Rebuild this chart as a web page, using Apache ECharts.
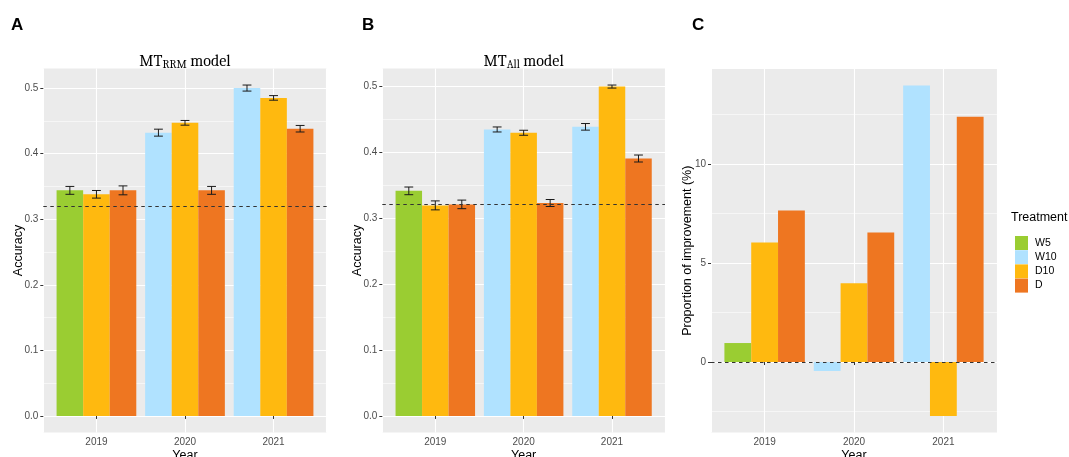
<!DOCTYPE html>
<html>
<head>
<meta charset="utf-8">
<script src="https://cdn.jsdelivr.net/npm/echarts@6/dist/echarts.min.js"></script>
<style>
  html, body { margin: 0; padding: 0; background: #ffffff; }
  #chart { width: 1069px; height: 457px; }
</style>
</head>
<body>
<div id="chart"></div>
<script>
// ---- data -------------------------------------------------------------
const years = ['2019', '2020', '2021'];
const treatments = ['W5', 'W10', 'D10', 'D'];
const accuracyTicks = [0, 0.1, 0.2, 0.3, 0.4, 0.5];
const improvementTicks = [0, 5, 10];
const baselineAccuracy = 0.322;

// MT_RRM model: mean accuracy per year and error half-widths
const rrmW5 = [0.344, null, null];
const rrmW10 = [null, 0.432, 0.500];
const rrmD10 = [0.338, 0.447, 0.485];
const rrmD = [0.344, 0.344, 0.438];
const rrmErrW5 = [0.006, null, null];
const rrmErrW10 = [null, 0.0053, 0.0046];
const rrmErrD10 = [0.0058, 0.0036, 0.0035];
const rrmErrD = [0.0068, 0.0060, 0.0050];

// MT_All model
const allW5 = [0.341, null, null];
const allW10 = [null, 0.434, 0.438];
const allD10 = [0.319, 0.429, 0.499];
const allD = [0.3205, 0.3226, 0.390];
const allErrW5 = [0.0058, null, null];
const allErrW10 = [null, 0.0038, 0.0050];
const allErrD10 = [0.0068, 0.0038, 0.0023];
const allErrD = [0.0065, 0.0053, 0.0053];

// proportion of improvement (%)
const impW5 = [0.96, null, null];
const impW10 = [null, -0.45, 13.95];
const impD10 = [6.03, 3.97, -2.72];
const impD = [7.65, 6.54, 12.38];

// ---- styling ----------------------------------------------------------
const fillColors = { W5: '#9ACD32', W10: '#B0E2FF', D10: '#FFB90F', D: '#EE7621' };
const slotOf = { W5: 0, W10: 0, D10: 1, D: 2 };
const SANS = '"Liberation Sans", Arial, Helvetica, sans-serif';
const SERIF = 'Cambria, "Liberation Serif", "DejaVu Serif", serif';

const panels = [
  {
    box: { left: 43.3, width: 283.4, top: 68.5, height: 364 },
    letter: 'A', letterX: 11,
    title: '{m|MT}{s|RRM}{m| model}',
    yName: 'Accuracy', yTicks: accuracyTicks, fmt: v => v.toFixed(1), nameGap: 18.5,
    values: { W5: rrmW5, W10: rrmW10, D10: rrmD10, D: rrmD },
    errors: { W5: rrmErrW5, W10: rrmErrW10, D10: rrmErrD10, D: rrmErrD },
    refLine: baselineAccuracy
  },
  {
    box: { left: 382.3, width: 282.7, top: 68.5, height: 364 },
    letter: 'B', letterX: 362,
    title: '{m|MT}{s|All}{m| model}',
    yName: 'Accuracy', yTicks: accuracyTicks, fmt: v => v.toFixed(1), nameGap: 18.5,
    values: { W5: allW5, W10: allW10, D10: allD10, D: allD },
    errors: { W5: allErrW5, W10: allErrW10, D10: allErrD10, D: allErrD },
    refLine: baselineAccuracy
  },
  {
    box: { left: 711, width: 286, top: 69, height: 363.5 },
    letter: 'C', letterX: 692,
    title: null,
    yName: 'Proportion of improvement (%)', yTicks: improvementTicks, fmt: v => String(v), nameGap: 16.7,
    values: { W5: impW5, W10: impW10, D10: impD10, D: impD },
    errors: null,
    refLine: 0
  }
];

// ggplot-style 5% expansion around the drawn extent (bars always include 0)
function valueRange(p) {
  let lo = 0, hi = 0;
  treatments.forEach(t => {
    p.values[t].forEach((v, i) => {
      if (v == null) return;
      const e = p.errors ? p.errors[t][i] : 0;
      lo = Math.min(lo, v - e);
      hi = Math.max(hi, v + e);
    });
  });
  const pad = (hi - lo) * 0.05;
  return [lo - pad, hi + pad];
}

function renderErrorBar(params, api) {
  const i = api.value(0);
  const lo = api.coord([i, api.value(1)]);
  const hi = api.coord([i, api.value(2)]);
  const band = api.size([1, 0])[0];
  const x = lo[0] + (api.value(3) - 1) * band * 0.3;
  const cap = band * 0.05;
  const style = { stroke: '#1a1a1a', lineWidth: 1 };
  return {
    type: 'group',
    children: [
      { type: 'line', shape: { x1: x, y1: lo[1], x2: x, y2: hi[1] }, style },
      { type: 'line', shape: { x1: x - cap, y1: lo[1], x2: x + cap, y2: lo[1] }, style },
      { type: 'line', shape: { x1: x - cap, y1: hi[1], x2: x + cap, y2: hi[1] }, style }
    ]
  };
}

const grid = [], xAxis = [], yAxis = [], series = [], graphic = [];

panels.forEach((p, k) => {
  const bg = 2 * k, fg = 2 * k + 1;
  const [yMin, yMax] = valueRange(p);
  const step = p.yTicks[1] - p.yTicks[0];
  const b = p.box;
  // discrete axis: 0.6 units of padding at both ends, category bands of 1 unit
  const unit = b.width / 3.2;

  grid.push({
    left: b.left, top: b.top, width: b.width, height: b.height,
    show: true, backgroundColor: '#EBEBEB', borderWidth: 0,
    containLabel: false, outerBoundsMode: 'none'
  });
  grid.push({
    left: b.left + unit * 0.1, top: b.top, width: unit * 3, height: b.height,
    show: false, containLabel: false, outerBoundsMode: 'none'
  });

  // panel axes: carry the grey panel's grid lines and the value labels
  xAxis.push({
    type: 'value', gridIndex: bg, min: 0.4, max: 3.6, minInterval: 1, maxInterval: 1,
    axisLine: { show: false }, axisTick: { show: false }, axisLabel: { show: false },
    splitLine: { show: true, lineStyle: { color: '#FFFFFF', width: 1.1 } }
  });
  yAxis.push({
    type: 'value', gridIndex: bg, min: yMin, max: yMax, minInterval: step, maxInterval: step,
    name: p.yName, nameLocation: 'middle', nameGap: p.nameGap, nameRotate: 90,
    nameMoveOverlap: false,
    nameTextStyle: { fontFamily: SANS, fontSize: 12.5, color: '#000000' },
    axisLine: { show: false },
    axisTick: { show: true, length: 3, customValues: p.yTicks, lineStyle: { color: '#333333', width: 1 } },
    axisLabel: {
      show: true, customValues: p.yTicks, formatter: p.fmt, margin: 5,
      fontFamily: SANS, fontSize: 10, color: '#4D4D4D'
    },
    splitLine: { show: true, lineStyle: { color: '#FFFFFF', width: 1.1 } },
    minorTick: { show: true, splitNumber: 2, length: 0, lineStyle: { opacity: 0 } },
    minorSplitLine: { show: true, lineStyle: { color: '#FFFFFF', width: 0.55 } }
  });

  // category axis for the dodged bars
  xAxis.push({
    type: 'category', gridIndex: fg, data: years, boundaryGap: true,
    name: 'Year', nameLocation: 'middle', nameGap: 16.5, nameMoveOverlap: false,
    nameTextStyle: { fontFamily: SANS, fontSize: 12.5, color: '#000000', verticalAlign: 'top' },
    axisLine: { show: false },
    axisTick: { show: true, alignWithLabel: true, length: 3, lineStyle: { color: '#333333', width: 1 } },
    axisLabel: { margin: 5, fontFamily: SANS, fontSize: 10, color: '#4D4D4D' },
    splitLine: { show: false }
  });
  yAxis.push({ type: 'value', gridIndex: fg, min: yMin, max: yMax, show: false, splitLine: { show: false } });

  treatments.forEach(t => {
    series.push({
      name: t, type: 'bar', xAxisIndex: fg, yAxisIndex: fg,
      stack: slotOf[t] === 0 ? 'lead' + k : undefined,
      data: p.values[t],
      barCategoryGap: '10%', barGap: '0%',
      itemStyle: { color: fillColors[t] },
      emphasis: { disabled: true },
      z: 2
    });
  });

  if (p.errors) {
    const errData = [];
    treatments.forEach(t => {
      p.values[t].forEach((v, i) => {
        if (v == null) return;
        const e = p.errors[t][i];
        errData.push([i, v - e, v + e, slotOf[t]]);
      });
    });
    series.push({
      type: 'custom', xAxisIndex: fg, yAxisIndex: fg,
      renderItem: renderErrorBar,
      encode: { x: 0, y: [1, 2] },
      data: errData, silent: true, z: 4
    });
  }

  // dashed reference line across the whole panel
  series.push({
    type: 'line', xAxisIndex: bg, yAxisIndex: bg, data: [], silent: true, z: 5,
    markLine: {
      silent: true, symbol: 'none', animation: false,
      label: { show: false },
      lineStyle: { type: [3.5, 3.5], color: '#333333', width: 1 },
      data: [{ yAxis: p.refLine }]
    }
  });

  // panel letter
  graphic.push({
    type: 'text', left: p.letterX, top: 17,
    style: { text: p.letter, font: 'bold 17px ' + SANS, fill: '#000000' }
  });
  if (p.title) {
    graphic.push({
      type: 'text', x: b.left + b.width / 2, y: 51,
      style: {
        text: p.title, align: 'center', verticalAlign: 'top',
        rich: {
          m: { fontFamily: SERIF, fontSize: 16, lineHeight: 20, verticalAlign: 'middle', fill: '#000000' },
          s: { fontFamily: SERIF, fontSize: 11.5, lineHeight: 10, verticalAlign: 'bottom', fill: '#000000' }
        }
      }
    });
  }
});

graphic.push({
  type: 'text', left: 1011, top: 211,
  style: { text: 'Treatment', font: '12.5px ' + SANS, fill: '#000000' }
});

const option = {
  animation: false,
  backgroundColor: '#FFFFFF',
  grid, xAxis, yAxis, series, graphic,
  legend: {
    data: treatments,
    orient: 'vertical', left: 1010, top: 231,
    icon: 'rect', itemWidth: 13, itemHeight: 14, itemGap: 0.2,
    selectedMode: false,
    textStyle: { fontFamily: SANS, fontSize: 10.5, color: '#000000', padding: [0, 0, 0, 2] }
  }
};

echarts.init(document.getElementById('chart'), null, { renderer: 'canvas' }).setOption(option);
</script>
</body>
</html>
